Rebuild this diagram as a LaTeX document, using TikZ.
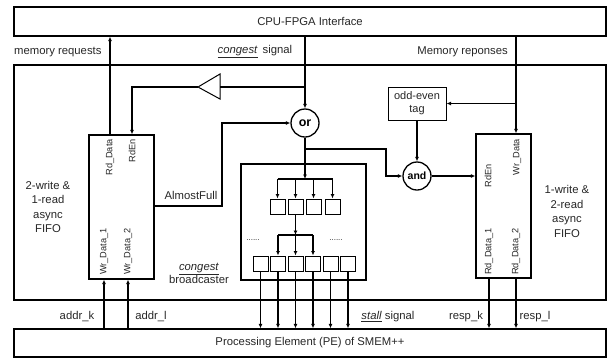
\documentclass[tikz,border=0pt]{standalone}
\usepackage{fontspec}
\setmainfont{Liberation Sans}
\usetikzlibrary{arrows.meta,calc}
\begin{document}
\begin{tikzpicture}[x=1pt,y=-1pt,
  box/.style={draw, line width=1.3pt, inner sep=0pt},
  conn/.style={line width=1.3pt},
  arr/.style={conn, -{Latex[length=4.5pt,width=4pt]}},
  lbl/.style={font=\fontsize{11.3}{13}\selectfont, text=black!85, inner sep=0pt},
  mlbl/.style={lbl, align=center, font=\fontsize{11.3}{14.5}\selectfont},
  vlbl/.style={font=\fontsize{9.2}{10}\selectfont, text=black!85, rotate=90, inner sep=0pt},
  sq/.style={draw, line width=1pt, minimum width=15pt, minimum height=15pt, inner sep=0pt},
  gate/.style={circle, draw, line width=1.3pt, minimum size=28pt, inner sep=0pt}]
\useasboundingbox (0,0) rectangle (608,360);
% main boxes
\node[box, minimum width=592pt, minimum height=29pt, lbl] (cpu) at (310,21.5) {CPU-FPGA Interface};
\node[box, minimum width=592pt, minimum height=235pt] (outer) at (310,182.5) {};
\node[box, minimum width=592pt, minimum height=28pt, lbl] (pe) at (310,343) {Processing Element (PE) of SMEM++};
\node[box, minimum width=65pt, minimum height=144pt] (lfifo) at (121.5,207) {};
\node[box, minimum width=55pt, minimum height=144pt] (rfifo) at (503.5,206) {};
\node[box, minimum width=125pt, minimum height=116pt] (bc) at (303.5,222) {};
\node[box, line width=1pt, minimum width=58pt, minimum height=33pt, mlbl, font=\fontsize{11}{13}\selectfont] (tag) at (417,103.5) {odd-even\\tag};
\node[gate, font=\bfseries\fontsize{12.5}{12}\selectfont] (orc) at (305,123) {or};
\node[gate, font=\bfseries\fontsize{10.5}{10}\selectfont] (andc) at (417,176) {and};
% triangle
\coordinate (triTip) at (198,87);
\coordinate (triB) at (220,87);
\draw[line width=1pt] (220,74) -- (220,99) -- (triTip) -- cycle;
% x positions
\coordinate (xRdL) at (110,0);
\coordinate (xEnL) at (132,0);
\coordinate (xW1) at (104,0);
\coordinate (xW2) at (128,0);
\coordinate (xMem) at (516,0);
\coordinate (xR1) at (489,0);
\coordinate (xBr) at (386,0);
\coordinate (yBr) at (0,149);
\coordinate (afA) at (154,206);
\coordinate (afB) at (222,206);
\coordinate (yF1) at (0,179);
\coordinate (yF2) at (0,235);
% small boxes
\foreach \n/\x in {r1a/277.5, r1b/295.5, r1c/313.5, r1d/332.5}
  \node[sq] (\n) at (\x,206.5) {};
\foreach \n/\x in {r2a/260.5, r2b/278, r2c/295.5, r2d/313, r2e/330.5, r2f/348}
  \node[sq] (\n) at (\x,263.5) {};
% FIFO port labels
\node[vlbl, anchor=east] at (110,139) {Rd\_Data};
\node[vlbl, anchor=east] at (132,139) {RdEn};
\node[vlbl, anchor=west] at (104,275) {Wr\_Data\_1};
\node[vlbl, anchor=west] at (128,275) {Wr\_Data\_2};
\node[vlbl, anchor=east] at (517,139) {Wr\_Data};
\node[vlbl] at (488,176) {RdEn};
\node[vlbl, anchor=west] at (489,275) {Rd\_Data\_1};
\node[vlbl, anchor=west] at (516,275) {Rd\_Data\_2};
% labels
\node[lbl, anchor=west] at (14,52) {memory requests};
\node[lbl] at (255,52) {\underline{\textit{congest}}\, signal};
\node[lbl, anchor=east] at (508,52) {Memory reponses};
\node[mlbl] at (48,207) {2-write \&\\1-read\\async\\FIFO};
\node[mlbl] at (567,211.5) {1-write \&\\2-read\\async\\FIFO};
\node[lbl] at (191,195) {AlmostFull};
\node[mlbl, font=\fontsize{11.3}{13.5}\selectfont] at (199,273.5) {\underline{\textit{congest}}\\broadcaster};
\node[lbl] at (77,317) {addr\_k};
\node[lbl] at (151,317) {addr\_l};
\node[lbl] at (388,317) {\underline{\textit{stall}} signal};
\node[lbl] at (466,317) {resp\_k};
\node[lbl] at (535,317) {resp\_l};
\node[lbl, font=\fontsize{8}{8}\selectfont] at (253,240) {......};
\node[lbl, font=\fontsize{8}{8}\selectfont] at (336,240) {......};
% connectors
\draw[arr] (lfifo.north -| xRdL) -- (cpu.south -| xRdL);
\draw[conn] (triB) -- (triB -| orc);
\draw[arr] (triTip) -| (lfifo.north -| xEnL);
\draw[arr] (cpu.south -| orc) -- (orc.north);
\draw[arr] (afA) -- (afB) |- (orc.west);
\draw[arr] (orc.south) -- (orc.south |- yF1);
\draw[conn] (r1a |- yF1) -- (r1d |- yF1);
\foreach \n in {r1a,r1b,r1c,r1d} \draw[arr] (\n |- yF1) -- (\n.north);
\draw[arr] (r1b.south) -- (r1b.south |- yF2);
\draw[conn] (r2b |- yF2) -- (r2d |- yF2);
\foreach \n in {r2b,r2c,r2d} \draw[arr] (\n |- yF2) -- (\n.north);
\foreach \n in {r2a,r2b,r2c,r2d,r2e,r2f} \draw[arr] (\n.south) -- (pe.north -| \n);
\draw[arr] (orc.south |- yBr) -| (xBr |- andc.west) -- (andc.west);
\draw[arr] (tag.south) -- (andc.north);
\draw[arr] (cpu.south -| xMem) -- (rfifo.north -| xMem);
\draw[arr] (tag.east -| xMem) -- (tag.east);
\draw[arr] (andc.east) -- (rfifo.west |- andc.east);
\draw[arr] (rfifo.south -| xR1) -- (pe.north -| xR1);
\draw[arr] (rfifo.south -| xMem) -- (pe.north -| xMem);
\draw[arr] (pe.north -| xW1) -- (lfifo.south -| xW1);
\draw[arr] (pe.north -| xW2) -- (lfifo.south -| xW2);
\end{tikzpicture}
\end{document}
